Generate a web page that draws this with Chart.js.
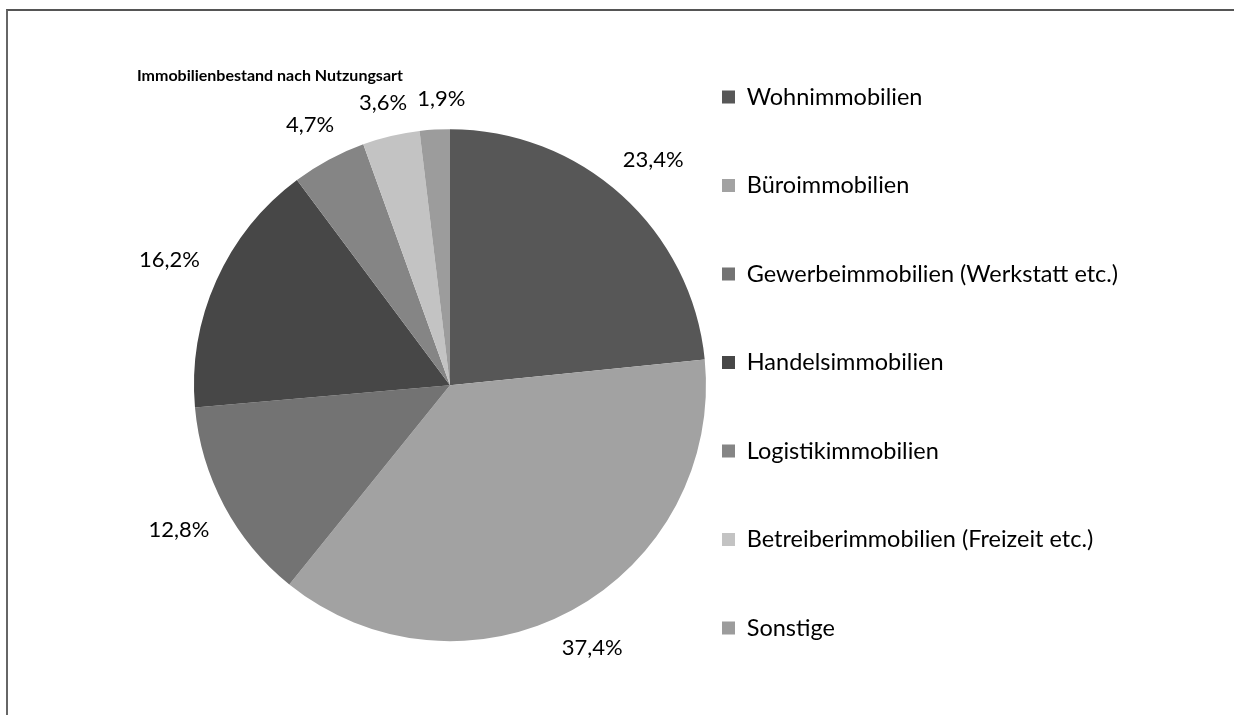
<!DOCTYPE html>
<html>
<head>
<meta charset="utf-8">
<script src="https://cdn.jsdelivr.net/npm/chart.js"></script>
<style>
  html, body { margin: 0; padding: 0; background: #fff; overflow: hidden; }
  #frame { position: absolute; left: 6px; top: 9px; width: 1400px; height: 900px;
           border-top: 2px solid #555; border-left: 2px solid #666; }
  #wrap { position: absolute; left: 0; top: 0; width: 1234px; height: 750px; }
</style>
</head>
<body>
<div id="frame"></div>
<div id="wrap"><canvas id="pie-chart"></canvas></div>
<script>
var title = "Immobilienbestand nach Nutzungsart";
var categories = ["Wohnimmobilien", "Büroimmobilien", "Gewerbeimmobilien (Werkstatt etc.)",
    "Handelsimmobilien", "Logistikimmobilien", "Betreiberimmobilien (Freizeit etc.)", "Sonstige"];
var shares = [23.4, 37.4, 12.8, 16.2, 4.7, 3.6, 1.9];
var colors = ["#575757", "#a2a2a2", "#737373", "#474747", "#858585", "#c3c3c3", "#9c9c9c"];

var fontFamily = "Lato, 'Open Sans', sans-serif";
var legendSize = 23.5;
var legendPad = 65;
var boxSize = 13;
var pieCenterX = 450;
var legendBoxX = 722;

var formatPct = function(v) {
    return v.toFixed(1).replace(".", ",") + "%";
};

// keep the pie centred left of the legend like in the original
var centerPie = {
    id: "centerPie",
    afterLayout: function(chart) {
        var a = chart.chartArea;
        a.left = 2 * pieCenterX - a.right;
        a.width = a.right - a.left;
    }
};

var outsideLabels = {
    id: "outsideLabels",
    afterDatasetsDraw: function(chart) {
        var ctx = chart.ctx;
        var meta = chart.getDatasetMeta(0);
        ctx.save();
        ctx.font = "22px " + fontFamily;
        ctx.fillStyle = "#000";
        ctx.textAlign = "center";
        ctx.textBaseline = "middle";
        var boxes = [];
        meta.data.forEach(function(arc, i) {
            var p = arc.getProps(["x", "y", "startAngle", "endAngle", "outerRadius"], true);
            var mid = (p.startAngle + p.endAngle) / 2;
            var ux = Math.cos(mid), uy = Math.sin(mid);
            var text = formatPct(shares[i]);
            var w = ctx.measureText(text).width;
            var h = 18;
            var d = p.outerRadius + 20 + (w / 2) * Math.abs(ux) + (h / 2) * Math.abs(uy);
            var b = { x: p.x + ux * d, y: p.y + uy * d, w: w, h: h, text: text };
            // push overlapping neighbours apart
            var prev = boxes[boxes.length - 1];
            if (prev && Math.abs(prev.y - b.y) < h && b.x - b.w / 2 < prev.x + prev.w / 2 + 8 && b.x > prev.x - prev.w) {
                b.x = prev.x + prev.w / 2 + 10 + b.w / 2;
            }
            boxes.push(b);
        });
        boxes.forEach(function(b) {
            ctx.fillText(b.text, b.x, b.y);
        });
        ctx.restore();
    }
};

var chartTitle = {
    id: "chartTitle",
    afterDraw: function(chart) {
        var ctx = chart.ctx;
        ctx.save();
        ctx.font = "bold 16px " + fontFamily;
        ctx.fillStyle = "#000";
        ctx.textAlign = "left";
        ctx.textBaseline = "alphabetic";
        ctx.fillText(title, 137, 81);
        ctx.restore();
    }
};

var chart = new Chart(document.getElementById("pie-chart"), {
    type: "pie",
    data: {
        labels: categories,
        datasets: [{
            data: shares,
            backgroundColor: colors,
            borderWidth: 0
        }]
    },
    options: {
        responsive: true,
        maintainAspectRatio: false,
        animation: false,
        radius: 256,
        layout: {
            padding: { top: 20.25, bottom: 0, left: 0, right: 120 }
        },
        plugins: {
            title: { display: false },
            tooltip: { enabled: false },
            legend: {
                position: "right",
                align: "start",
                labels: {
                    font: { family: fontFamily, size: legendSize },
                    color: "#000",
                    boxWidth: boxSize,
                    boxHeight: boxSize,
                    padding: legendPad
                }
            }
        }
    },
    plugins: [centerPie, outsideLabels, chartTitle]
});

// slide the legend so its colour boxes start where the reference has them
var shift = chart.legend.left + legendPad - legendBoxX;
chart.options.layout.padding.right += shift;
chart.update();
</script>
</body>
</html>
